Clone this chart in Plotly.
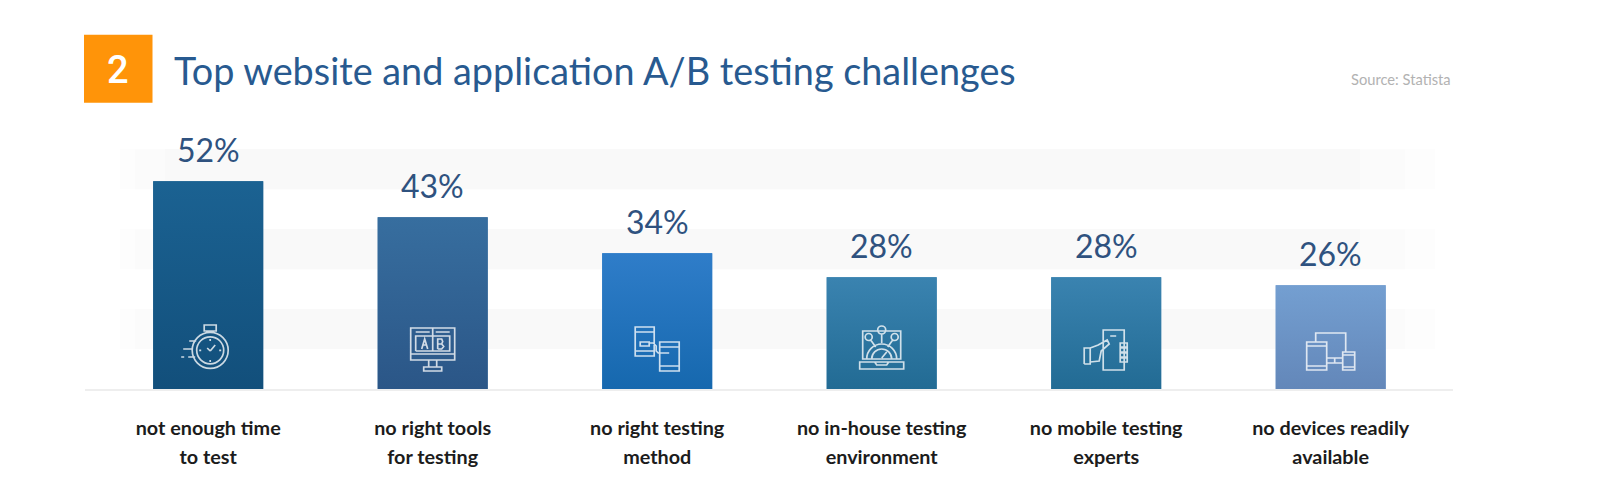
import plotly.graph_objects as go

# ---- data ----
categories = ["not enough time to test", "no right tools for testing", "no right testing method",
              "no in-house testing environment", "no mobile testing experts", "no devices readily available"]
tick_lines = [("not enough time", "to test"), ("no right tools", "for testing"), ("no right testing", "method"),
              ("no in-house testing", "environment"), ("no mobile testing", "experts"), ("no devices readily", "available")]
values = [52, 43, 34, 28, 28, 26]
value_labels = ["52%", "43%", "34%", "28%", "28%", "26%"]
top_colors = ["#1b6292", "#376e9f", "#2f7dc9", "#3a83b0", "#3a83b0", "#749fd1"]
bottom_colors = ["#124f7b", "#2b5687", "#1668ae", "#226b94", "#226b94", "#6387b9"]
band_edges = [(10, 20), (30, 40), (50, 60)]
title_text = "Top website and application A/B testing challenges"
source_text = "Source: Statista"

positions = list(range(len(values)))
OFF = 8  # page body margin
BAR_W = 0.49
PX_X = 224.5
CX0 = 208.2 - OFF
X0 = 85 - OFF; X1 = 1453 - OFF; YT = 140 - OFF; YB = 388.7 - OFF
PX_Y = 3.99
W = 1584; H = 486
x_range = [(X0 - CX0) / PX_X, (X1 - CX0) / PX_X]
y_range = [0, (YB - YT) / PX_Y]

fig = go.Figure()
fig.add_bar(x=positions, y=values, width=BAR_W, marker=dict(color=top_colors, line=dict(width=0)),
            hovertext=categories, showlegend=False)

# vertical gradient over each bar
for p, v, t, b in zip(positions, values, top_colors, bottom_colors):
    fig.add_scatter(x=[p - BAR_W/2, p + BAR_W/2, p + BAR_W/2, p - BAR_W/2, p - BAR_W/2], y=[0, 0, v, v, 0],
                    mode="lines", line=dict(width=0), fill="toself", showlegend=False, hoverinfo="skip",
                    fillgradient=dict(type="vertical", start=0, stop=v, colorscale=[[0, b], [1, t]]))

shapes = []
def xpx(px):
    return (px - OFF - CX0) / PX_X
def px_paper_x(px):
    return (px - OFF - X0) / (X1 - X0)
def px_paper_y(py):
    return (YB - (py - OFF)) / (YB - YT)

# faded background bands
for lo, hi in band_edges:
    for a, b, c in [(120, 1435, "#fdfdfd"), (135, 1405, "#fbfbfb"), (165, 1360, "#f9f9f9")]:
        shapes.append(dict(type="rect", layer="below", xref="x", yref="y", x0=xpx(a), x1=xpx(b), y0=lo, y1=hi,
                           fillcolor=c, line=dict(width=0)))

# header square
shapes.append(dict(type="rect", xref="paper", yref="paper", layer="above",
                   x0=px_paper_x(84), x1=px_paper_x(152.5), y0=px_paper_y(102.7), y1=px_paper_y(35),
                   fillcolor="#ff9409", line=dict(width=0)))

# ---- icon geometry helpers (pixels relative to bar centre / baseline) ----
def rect(x0, y0, x1, y1):
    return f"M{x0},{y0}L{x1},{y0}L{x1},{y1}L{x0},{y1}Z"
def line(*pts):
    return "M" + "L".join(f"{x},{y}" for x, y in pts)
def circle(cx, cy, r):
    k = 0.5523 * r
    return (f"M{cx+r},{cy}C{cx+r},{cy+k} {cx+k},{cy+r} {cx},{cy+r}"
            f"C{cx-k},{cy+r} {cx-r},{cy+k} {cx-r},{cy}C{cx-r},{cy-k} {cx-k},{cy-r} {cx},{cy-r}"
            f"C{cx+k},{cy-r} {cx+r},{cy-k} {cx+r},{cy}Z")
def arc(cx, cy, r):  # upper half circle
    k = 0.5523 * r
    return f"M{cx-r},{cy}C{cx-r},{cy+k} {cx-k},{cy+r} {cx},{cy+r}C{cx+k},{cy+r} {cx+r},{cy+k} {cx+r},{cy}"

icons = [
    # stopwatch
    circle(2, 38.7, 18) + circle(2, 38.7, 13.5) + rect(-4, 58, 8, 64) + line((0, 58), (0, 56.5)) + line((4, 58), (4, 56.5))
    + line((2, 38), (-1, 41)) + line((2, 38), (7, 44))
    + line((2, 50), (2, 48)) + line((2, 29), (2, 27)) + line((-9, 38.7), (-7, 38.7)) + line((11, 38.7), (13, 38.7))
    + line((-19, 48), (-12, 48)) + line((-25, 40), (-16, 40)) + line((-20, 32), (-13, 32)) + line((-27, 32), (-24, 32)),
    # A/B monitor
    rect(-22, 29, 22, 61) + line((-22, 35), (22, 35)) + line((-17, 38), (-17, 53), (17, 53), (17, 38), (-17, 38)) + line((0, 38), (0, 61))
    + line((-17, 57), (-3, 57)) + line((3, 57), (17, 57))
    + line((-11, 40), (-8, 50), (-5, 40)) + line((-10, 44), (-6, 44))
    + line((5, 40), (5, 50), (9, 50), (10, 47.5), (9, 45), (5, 45)) + line((9, 45), (11, 42.5), (9, 40), (5, 40))
    + line((-4, 29), (-4, 22)) + line((4, 29), (4, 22)) + rect(-9, 18, 9, 22),
    # two phones
    rect(-22, 33, -3, 62) + line((-22, 38), (-3, 38)) + line((-22, 57), (-3, 57)) + rect(2.5, 18, 22, 47) + line((2.5, 23), (22, 23)) + line((2.5, 42), (22, 42))
    + rect(-17, 43, -8, 47) + line((-8, 46), (-4, 46), (-1, 43), (-1, 38), (1, 36), (12, 36)),
    # laptop with gauge
    rect(-19, 30, 19, 58) + rect(-22, 20, 22, 27) + line((-7, 27), (-5, 24), (5, 24), (7, 27))
    + arc(0, 30, 15) + arc(0, 30, 10) + line((0, 31), (5, 37)) + circle(0, 59, 4) + circle(-13, 52, 3.5) + circle(13, 52, 3.5)
    + line((0, 55), (0, 46)) + line((-11, 49), (-6, 42)) + line((11, 49), (6, 42)),
    # hand holding phone
    rect(-3, 19, 18, 59) + line((4, 53), (10, 53))
    + line((-22, 25), (-16, 25), (-16, 41), (-22, 41), (-22, 25)) + line((-16, 41), (-8, 44), (1, 49), (3, 45), (-5, 38), (-7, 28), (-16, 27))
    + rect(14, 42, 21, 46) + rect(14, 37, 21, 41) + rect(14, 32, 21, 36) + rect(14, 27, 21, 31),
    # devices
    line((-15, 47), (-15, 56), (15, 56), (15, 37)) + line((-4, 31), (12, 31)) + line((-4, 26), (12, 26)) + line((4, 31), (4, 26))
    + rect(-24, 19, -4, 47) + line((-24, 23), (-4, 23)) + line((-24, 43), (-4, 43)) + rect(12, 19, 24, 37) + line((12, 22), (24, 22)) + line((12, 34), (24, 34)),
]
for p, path in zip(positions, icons):
    shapes.append(dict(type="path", layer="above", xref="x", yref="y", xsizemode="pixel", ysizemode="pixel",
                       xanchor=p, yanchor=0, path=path, line=dict(color="rgba(255,255,255,0.78)", width=1.7)))

annotations = []
for p, v, lab in zip(positions, values, value_labels):
    annotations.append(dict(x=p, y=v, xref="x", yref="y", text=lab, showarrow=False, yanchor="bottom", yshift=10,
                            font=dict(family="Lato", size=32, color="#2f527f")))
annotations.append(dict(x=px_paper_x(118), y=px_paper_y(70), xref="paper", yref="paper", text="2", showarrow=False,
                        font=dict(family="Roboto", size=38, color="white", weight=500), xanchor="center", yanchor="middle"))
annotations.append(dict(x=px_paper_x(172), y=px_paper_y(71), xref="paper", yref="paper", text=title_text, showarrow=False,
                        font=dict(family="Lato", size=37.8, color="#285a90"), xanchor="left", yanchor="middle"))
annotations.append(dict(x=px_paper_x(1453), y=px_paper_y(79), xref="paper", yref="paper", text=source_text, showarrow=False,
                        font=dict(family="Lato", size=14.7, color="#b2b2b2"), xanchor="right", yanchor="middle"))

ticktext = [f'<span style="font-size:19.8px"><b>{a}</b></span><br><span style="font-size:19.8px"><b>{b}</b></span>' for a, b in tick_lines]

fig.update_layout(
    width=W, height=H, margin=dict(l=X0, r=W - X1, t=YT, b=H - YB, pad=0),
    paper_bgcolor="white", plot_bgcolor="rgba(0,0,0,0)", showlegend=False, shapes=shapes, annotations=annotations,
    xaxis=dict(range=x_range, tickmode="array", tickvals=positions, ticktext=ticktext, showgrid=False, zeroline=False,
               showline=True, linecolor="#eeeeee", linewidth=2, ticks="outside", ticklen=18, tickcolor="rgba(0,0,0,0)",
               tickfont=dict(family="Lato", size=22, color="#1c1c1c")),
    yaxis=dict(range=y_range, visible=False, showgrid=False, zeroline=False),
)
fig.write_html("out.html")
